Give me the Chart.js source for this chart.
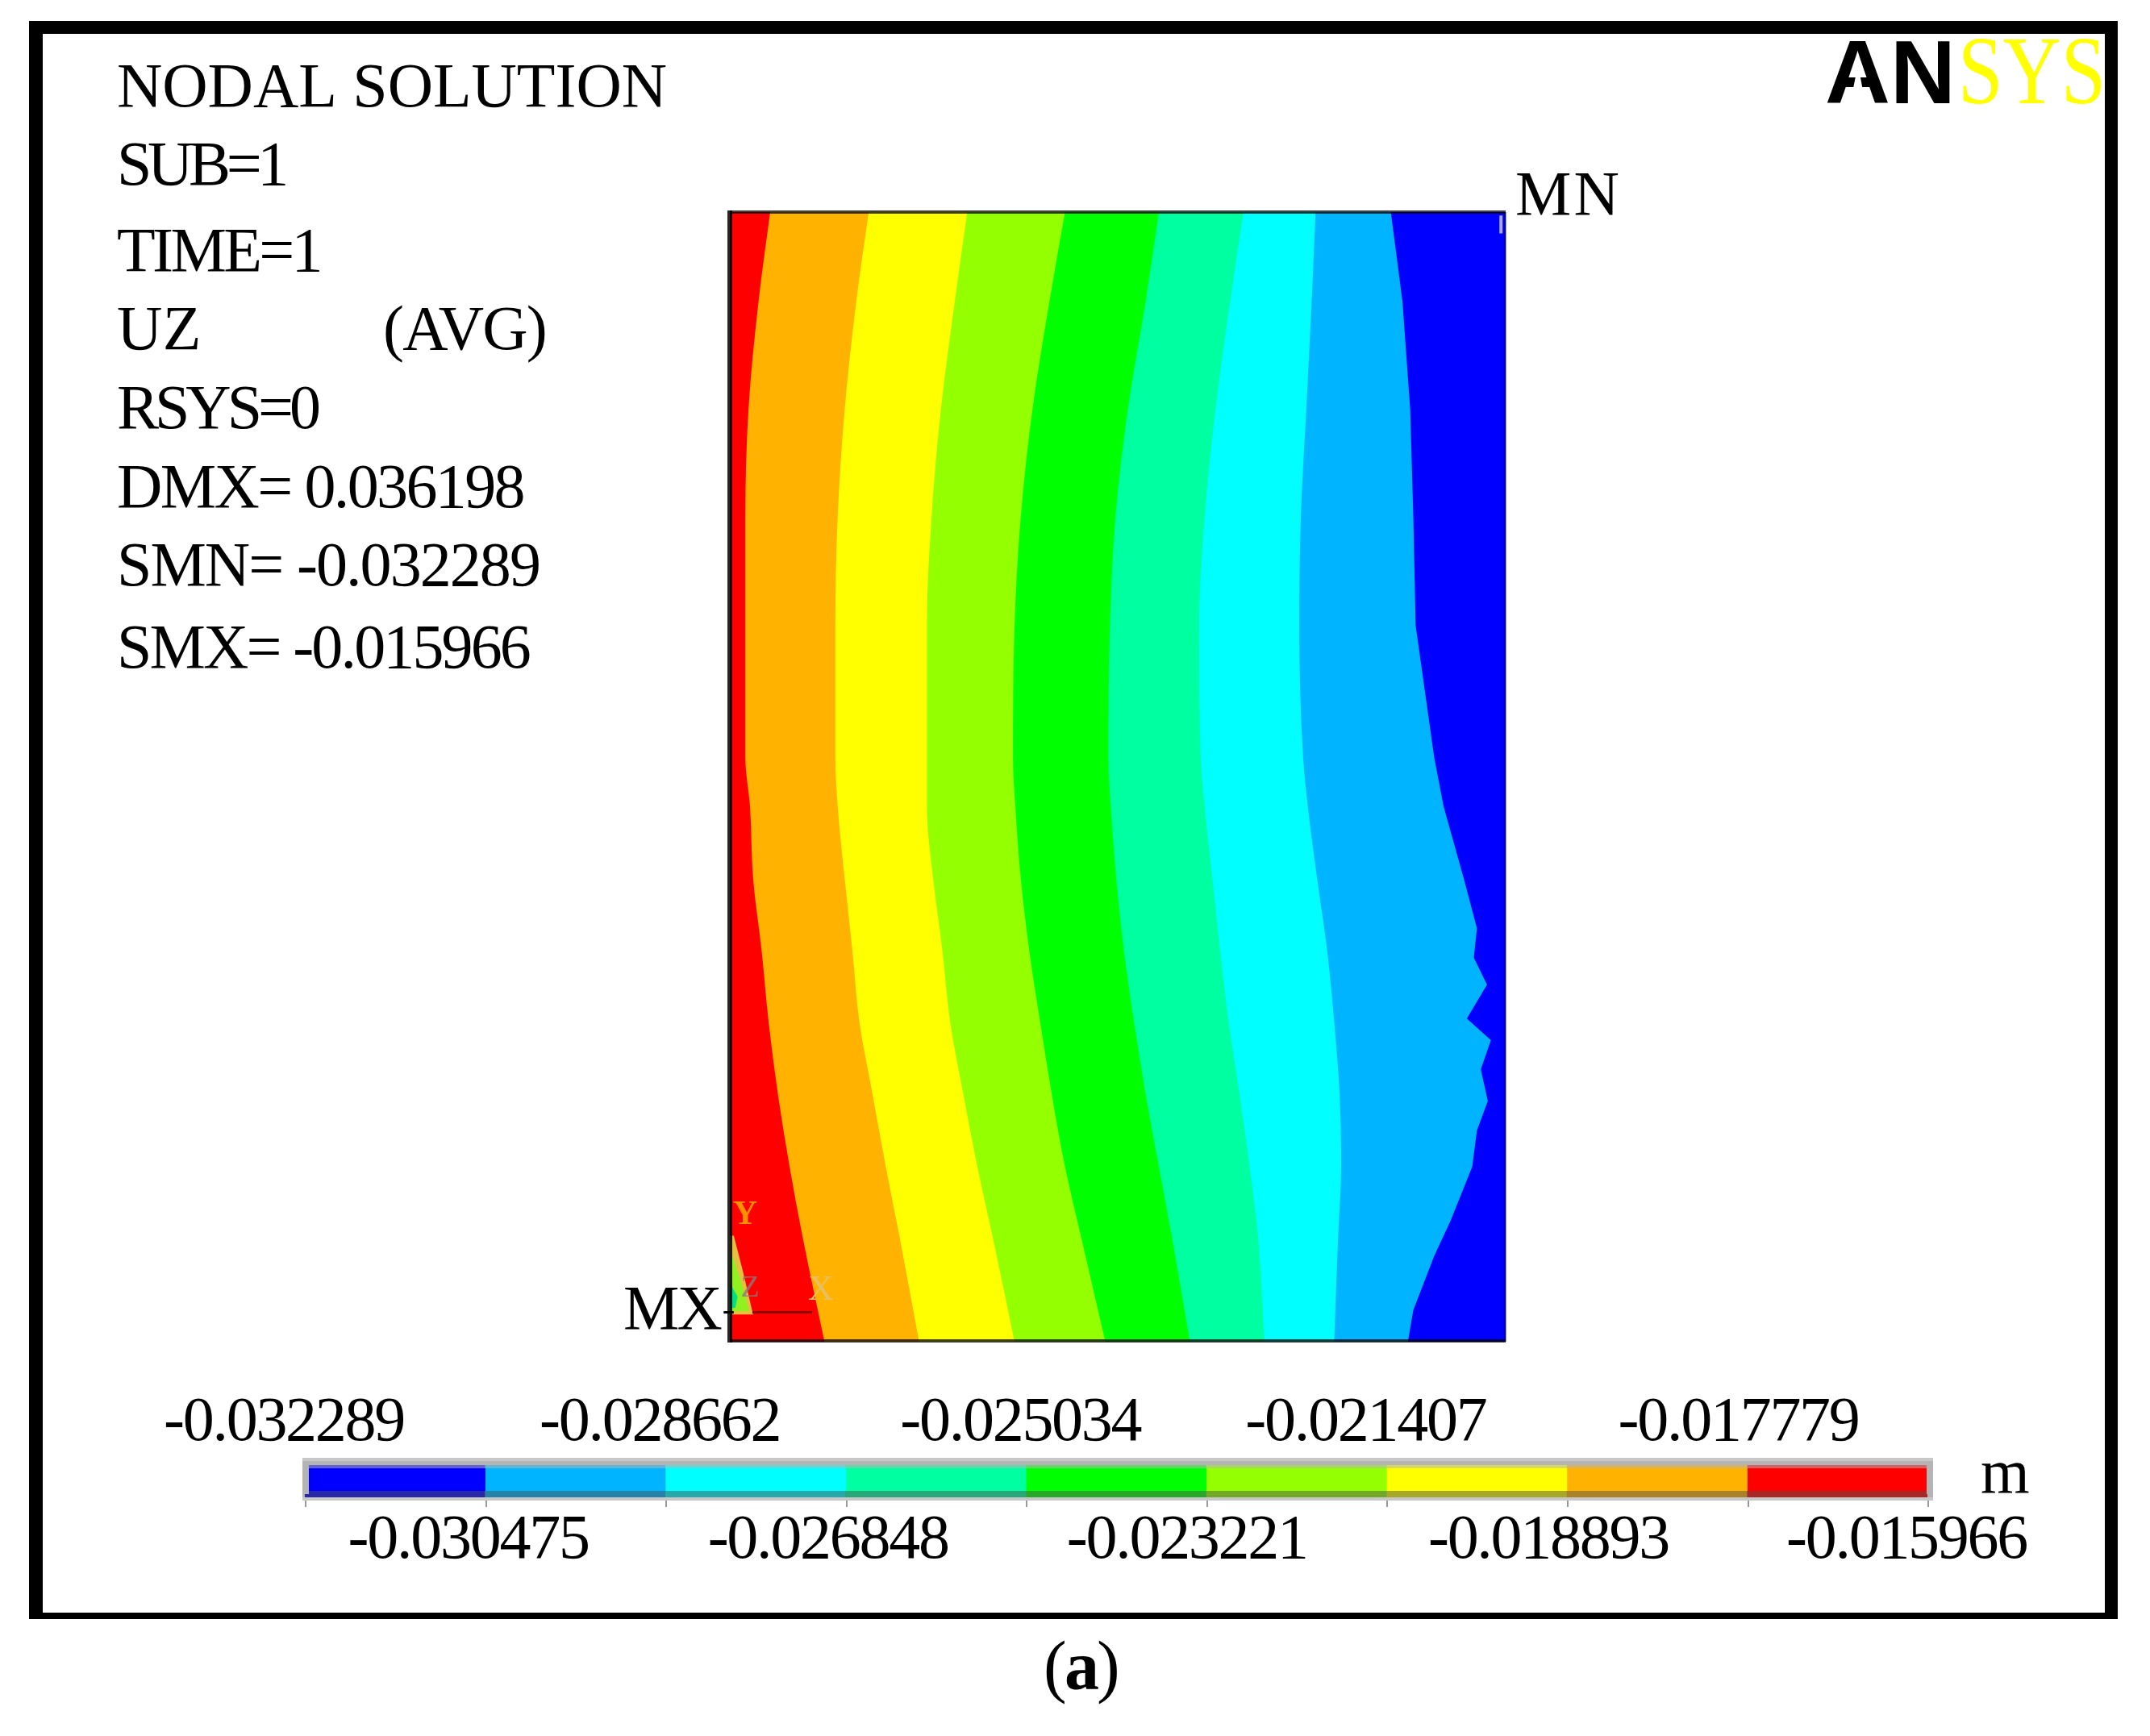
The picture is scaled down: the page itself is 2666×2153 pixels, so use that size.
<!DOCTYPE html>
<html>
<head>
<meta charset="utf-8">
<title>Nodal solution UZ</title>
<script src="https://cdn.jsdelivr.net/npm/chart.js@4/dist/chart.umd.min.js"></script>
<style>
  html, body { margin: 0; padding: 0; background: #fff; overflow: hidden; }
  canvas { position: absolute; left: 0; top: 0; }
</style>
</head>
<body>
<canvas id="contourChart" width="2666" height="2153"></canvas>
<canvas id="legendChart" width="2666" height="2153"></canvas>
<script>
/* Contour edges: x = % of plate width, read at each depth (% of plate height from the top) */
var edgeDepth = [0, 7.9, 17.5, 27, 36.6, 48.3, 52.6, 59, 65.4, 71.7, 78.1, 84.5, 90.8, 100];
var redEdge = [5.2, 3.7, 2.4, 2.0, 2.0, 2.0, 2.6, 3.0, 4.1, 5.0, 6.2, 7.7, 9.4, 12.2];
var orangeEdge = [17.9, 16.3, 14.8, 13.9, 13.6, 13.6, 13.9, 14.8, 15.8, 16.7, 18.4, 20.1, 21.9, 24.4];
var yellowEdge = [30.6, 29.0, 27.2, 26.0, 25.4, 25.4, 25.4, 26.2, 27.4, 28.4, 30.1, 31.9, 33.9, 36.7];
var limeEdge = [43.2, 41.2, 39.0, 37.5, 36.7, 36.5, 36.8, 37.5, 38.6, 40.0, 41.5, 43.2, 45.3, 48.4];
var greenEdge = [55.3, 53.6, 51.3, 49.7, 49.0, 48.8, 49.1, 49.8, 50.8, 52.1, 53.6, 55.3, 57.0, 59.3];
var springEdge = [66.2, 64.5, 62.6, 61.2, 60.5, 60.7, 61.2, 62.2, 63.2, 64.3, 65.7, 67.0, 68.1, 68.9];
var cyanEdge = [75.5, 75.0, 74.3, 73.6, 73.4, 73.9, 74.5, 75.7, 77.0, 77.9, 78.6, 78.8, 78.4, 77.9];
var skyDepth = [0, 7.9, 17.5, 27, 36.6, 48.3, 52.6, 59, 63.4, 66, 68.4, 71.4, 73.3, 75.9, 78.7, 81.3, 84.5, 89.3, 92.4, 97.2, 100];
var skyEdge = [85.2, 86.7, 87.7, 88.1, 88.4, 90.8, 92.0, 94.6, 96.3, 95.9, 97.6, 95.0, 98.1, 96.8, 97.7, 96.3, 95.7, 92.9, 90.8, 88.1, 87.4];
var blueDepth = [0, 100];
var blueEdge = [100, 100];

/* Small hot spot at the fixed corner */
var goldDepth = [90.6, 93.8, 97.6];
var goldEdge = [0.5, 1.7, 3.0];
var limeSpotDepth = [92.5, 95, 97.3];
var limeSpotEdge = [0.4, 1.6, 2.5];
var springSpotDepth = [94.8, 96, 97];
var springSpotEdge = [0, 1.0, 0.7];

/* Colour legend */
var legendBreaks = [-0.032289, -0.030475, -0.028662, -0.026848, -0.025034, -0.023221, -0.021407, -0.019593, -0.017779, -0.015966];
var legendTop = ["-0.032289", "-0.028662", "-0.025034", "-0.021407", "-0.017779"];
var legendBottom = ["-0.030475", "-0.026848", "-0.023221", "-0.018893", "-0.015966"];
var legendUnit = "m";

var infoLines = ["NODAL SOLUTION", "SUB=1", "TIME=1", "UZ", "RSYS=0", "DMX= 0.036198", "SMN= -0.032289", "SMX= -0.015966"];

var BAND_COLORS = ["#ff0000", "#ffb200", "#ffff00", "#94ff00", "#00ff00", "#00ffa0", "#00ffff", "#00b4ff", "#0000ff"];
var SERIF = "'Liberation Serif', serif";

function toPoints(xs, ys) {
  return xs.map(function (x, i) { return { x: x, y: ys[i] }; });
}

function band(label, xs, ys, color, smooth) {
  return {
    label: label,
    data: toPoints(xs, ys),
    backgroundColor: color,
    borderWidth: 0,
    pointRadius: 0,
    cubicInterpolationMode: smooth ? "monotone" : "default",
    fill: { target: { value: 0 } },
  };
}

function leader(xs, ys, color, width) {
  return { label: "leader", data: toPoints(xs, ys), borderColor: color, borderWidth: width, pointRadius: 0, fill: false, clip: false };
}

/* Draw text squeezed or stretched to the width it has in the figure */
function fitText(ctx, text, x, baseline, width, font, color) {
  ctx.font = font;
  ctx.fillStyle = color;
  ctx.textAlign = "left";
  ctx.textBaseline = "alphabetic";
  ctx.letterSpacing = "0px";
  var natural = ctx.measureText(text).width;
  ctx.letterSpacing = ((width - natural) / text.length).toFixed(2) + "px";
  ctx.fillText(text, x, baseline);
  ctx.letterSpacing = "0px";
}

/* ------------------------------------------------------------------ */
/* Frame, info block, logo and probe labels                            */
/* ------------------------------------------------------------------ */
var figureText = {
  id: "figureText",
  beforeDraw: function (chart) {
    var ctx = chart.ctx;
    ctx.save();
    ctx.fillStyle = "#fff";
    ctx.fillRect(0, 0, chart.width, chart.height);

    /* logo: the A has no crossbar, the last S runs under the frame */
    ctx.fillStyle = "#000";
    ctx.font = "bold 112px 'Liberation Sans', sans-serif";
    ctx.textBaseline = "alphabetic";
    ctx.fillText("AN", 2263, 128);
    ctx.fillStyle = "#fff";
    ctx.beginPath();
    ctx.moveTo(2294, 129);
    ctx.lineTo(2313, 129);
    ctx.lineTo(2304, 80);
    ctx.closePath();
    ctx.fill();
    ctx.save();
    ctx.translate(2428, 128);
    ctx.scale(1, 1.2);
    ctx.fillStyle = "#ffff00";
    ctx.font = "100px " + SERIF;
    ctx.fillText("SYS", 0, 0);
    ctx.restore();

    ctx.fillStyle = "#000";
    ctx.fillRect(36, 26, 2590, 16);
    ctx.fillRect(36, 2000, 2590, 8);
    ctx.fillRect(36, 26, 17, 1982);
    ctx.fillRect(2610, 26, 16, 1982);

    var font = "78px " + SERIF;
    var baselines = [132, 229, 336, 433, 531, 629, 726, 828];
    var widths = [682, 208, 252, 105, 248, 504, 524, 511];
    infoLines.forEach(function (line, i) {
      fitText(ctx, line, 145, baselines[i], widths[i], font, "#000");
    });
    fitText(ctx, "(AVG)", 475, 433, 202, font, "#000");
    fitText(ctx, "MN", 1879, 266, 132, font, "#000");
    fitText(ctx, "MX", 773, 1648, 120, font, "#000");

    /* caption */
    ctx.fillStyle = "#000";
    ctx.font = "86px " + SERIF;
    ctx.fillText("(", 1294, 2095);
    ctx.fillText(")", 1360, 2095);
    ctx.font = "bold 86px " + SERIF;
    ctx.fillText("a", 1320, 2095);
    ctx.restore();
  },
  afterDatasetsDraw: function (chart) {
    var ctx = chart.ctx;
    var a = chart.chartArea;
    ctx.save();
    ctx.fillStyle = "rgba(0,0,0,.85)";
    ctx.fillRect(a.left - 3, a.top - 2, 6, a.height + 3);
    ctx.fillStyle = "rgba(0,0,0,.75)";
    ctx.fillRect(a.left, a.top - 2, a.width, 4);
    ctx.fillRect(a.left, a.bottom - 3, a.width, 4);
    ctx.fillStyle = "rgba(0,0,40,.4)";
    ctx.fillRect(a.right - 2, a.top, 3, a.height);

    /* triad labels */
    ctx.textAlign = "center";
    ctx.textBaseline = "alphabetic";
    ctx.fillStyle = "#ff9000";
    ctx.font = "bold 42px " + SERIF;
    ctx.fillText("Y", 924, 1518);
    ctx.fillStyle = "#e8c060";
    ctx.font = "44px " + SERIF;
    ctx.fillText("X", 1018, 1612);
    ctx.fillStyle = "rgba(140,120,120,.8)";
    ctx.font = "38px " + SERIF;
    ctx.fillText("Z", 930, 1608);
    ctx.restore();
  },
};

new Chart(document.getElementById("contourChart"), {
  type: "line",
  data: {
    datasets: [
      leader([-0.8, 0.5], [97.4, 97.4], "#000", 3),
      leader([2.9, 10.6], [97.4, 97.4], "#8b0000", 3),
      leader([99.4, 99.4], [0.3, 1.9], "#a8a8e8", 4),
      band("spot 3", springSpotEdge, springSpotDepth, "#00e080", false),
      band("spot 2", limeSpotEdge, limeSpotDepth, "#90f020", false),
      band("spot 1", goldEdge, goldDepth, "#e8c040", false),
      band("band 9", redEdge, edgeDepth, BAND_COLORS[0], true),
      band("band 8", orangeEdge, edgeDepth, BAND_COLORS[1], true),
      band("band 7", yellowEdge, edgeDepth, BAND_COLORS[2], true),
      band("band 6", limeEdge, edgeDepth, BAND_COLORS[3], true),
      band("band 5", greenEdge, edgeDepth, BAND_COLORS[4], true),
      band("band 4", springEdge, edgeDepth, BAND_COLORS[5], true),
      band("band 3", cyanEdge, edgeDepth, BAND_COLORS[6], true),
      band("band 2", skyEdge, skyDepth, BAND_COLORS[7], false),
      band("band 1", blueEdge, blueDepth, BAND_COLORS[8], false),
    ],
  },
  options: {
    responsive: false,
    animation: false,
    indexAxis: "y",
    layout: { padding: { left: 905, right: 799, top: 263, bottom: 489 } },
    plugins: { legend: { display: false }, tooltip: { enabled: false } },
    scales: {
      x: { type: "linear", min: 0, max: 100, display: false },
      y: { type: "linear", min: 0, max: 100, reverse: true, display: false },
    },
  },
  plugins: [figureText],
});

/* ------------------------------------------------------------------ */
/* Colour legend bar                                                   */
/* ------------------------------------------------------------------ */
var legendFrame = {
  id: "legendFrame",
  beforeDatasetsDraw: function (chart) {
    var ctx = chart.ctx;
    var a = chart.chartArea;
    var xs = chart.scales.x;
    ctx.save();
    ctx.fillStyle = "#b4b4b4";
    ctx.fillRect(375, a.top - 13, 2022, 53);
    ctx.fillStyle = "#c8c8c8";
    ctx.fillRect(375, a.top - 13, 2022, 4);
    ctx.fillRect(375, a.bottom + 8, 2022, 4);
    BAND_COLORS.slice().reverse().forEach(function (color, i) {
      var from = xs.getPixelForValue(legendBreaks[i]);
      var to = xs.getPixelForValue(legendBreaks[i + 1]);
      ctx.fillStyle = color;
      ctx.globalAlpha = 0.45;
      ctx.fillRect(from, a.top - 4, to - from, 4);
      ctx.globalAlpha = 1;
      ctx.fillStyle = "#505050";
      ctx.fillRect(from, a.bottom, to - from, 8);
      ctx.fillStyle = color;
      ctx.globalAlpha = 0.5;
      ctx.fillRect(from, a.bottom, to - from, 8);
      ctx.globalAlpha = 1;
    });
    ctx.fillStyle = "#9a9a9a";
    legendBreaks.forEach(function (value) {
      ctx.fillRect(Math.round(xs.getPixelForValue(value)), a.bottom + 12, 2, 8);
    });
    ctx.restore();
  },
  afterDatasetsDraw: function (chart) {
    var ctx = chart.ctx;
    var a = chart.chartArea;
    var xs = chart.scales.x;
    ctx.save();
    /* grey ends of the bar */
    ctx.fillStyle = "#b4b4b4";
    ctx.fillRect(375, a.top - 4, 8, 36);
    ctx.fillRect(2389, a.top - 4, 8, 36);

    var font = "78px " + SERIF;
    var topShift = [-26, -7, -7, -26, -11];
    var bottomShift = [-20, -21, -23, -22, -25];
    legendTop.forEach(function (label, i) {
      var center = xs.getPixelForValue(legendBreaks[i * 2]) + topShift[i];
      fitText(ctx, label, center - 149, 1786, 298, font, "#000");
    });
    legendBottom.forEach(function (label, i) {
      var center = xs.getPixelForValue(legendBreaks[i * 2 + 1]) + bottomShift[i];
      fitText(ctx, label, center - 150, 1932, 298, font, "#000");
    });
    fitText(ctx, legendUnit, 2456, 1851, 63, font, "#000");
    ctx.restore();
  },
};

new Chart(document.getElementById("legendChart"), {
  type: "bar",
  data: {
    labels: ["UZ"],
    datasets: BAND_COLORS.slice().reverse().map(function (color, i) {
      return {
        label: legendBreaks[i] + " to " + legendBreaks[i + 1],
        data: [[legendBreaks[i], legendBreaks[i + 1]]],
        backgroundColor: color,
        borderWidth: 0,
        grouped: false,
        barPercentage: 1,
        categoryPercentage: 1,
      };
    }),
  },
  options: {
    responsive: false,
    animation: false,
    indexAxis: "y",
    layout: { padding: { left: 378, right: 276, top: 1821, bottom: 304 } },
    plugins: { legend: { display: false }, tooltip: { enabled: false } },
    scales: {
      x: { type: "linear", min: legendBreaks[0], max: legendBreaks[9], display: false },
      y: { display: false },
    },
  },
  plugins: [legendFrame],
});
</script>
</body>
</html>
